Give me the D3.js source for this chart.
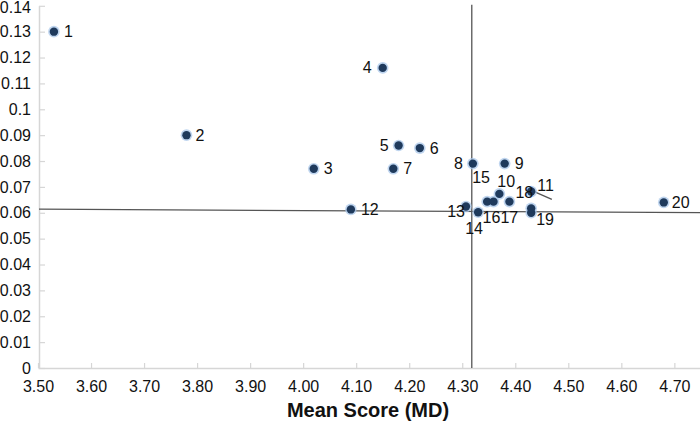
<!DOCTYPE html>
<html>
<head>
<meta charset="utf-8">
<script src="https://cdn.jsdelivr.net/npm/d3@7"></script>
<style>
  html, body { margin: 0; padding: 0; background: #fff; }
  svg { display: block; font-family: "Liberation Sans", Arial, sans-serif; }
</style>
</head>
<body>
<svg id="chart" width="700" height="424"></svg>
<script>
// ---- Data ----
const pointIds   = [1, 2, 3, 4, 5, 6, 7, 8, 9, 10, 11, 12, 13, 14, 15, 16, 17, 18, 19, 20];
const meanScore  = [3.53, 3.78, 4.02, 4.15, 4.18, 4.22, 4.17, 4.32, 4.38, 4.37, 4.43, 4.09, 4.307, 4.33, 4.347, 4.359, 4.389, 4.43, 4.43, 4.68];
const yValues    = [0.130, 0.090, 0.077, 0.116, 0.086, 0.085, 0.077, 0.079, 0.079, 0.0673, 0.0600, 0.0613, 0.0624, 0.0602, 0.0643, 0.0643, 0.0643, 0.0682, 0.0617, 0.064];
const xTickValues = [3.5, 3.6, 3.7, 3.8, 3.9, 4.0, 4.1, 4.2, 4.3, 4.4, 4.5, 4.6, 4.7];
const yTickValues = [0, 0.01, 0.02, 0.03, 0.04, 0.05, 0.06, 0.07, 0.08, 0.09, 0.1, 0.11, 0.12, 0.13, 0.14];
const xAxisTitle = "Mean Score (MD)";
const refX = 4.318;                 // vertical reference line
const refYStart = 0.0614, refYEnd = 0.0600;  // horizontal reference line (slightly tilted)
const leaderEnd = [4.469, 0.0652];  // end of leader line from point 18

// ---- Layout (label placement: [dx, dy, anchor]) ----
const labelLayout = {
  1: [10, 5.5, "start"], 2: [9, 5.5, "start"], 3: [10, 5.5, "start"], 4: [-11, 5.5, "end"],
  5: [-10, 5.5, "end"], 6: [10, 5.5, "start"], 7: [10, 5.5, "start"], 8: [-10, 5.5, "end"],
  9: [10, 5.5, "start"], 10: [-2, -7, "start"], 11: [6, -21.5, "start"], 12: [10, 5.5, "start"],
  13: [-1, 10, "end"], 14: [-13, 22, "start"], 15: [-15, -19, "start"], 16: [-11, 21, "start"],
  17: [-9, 21, "start"], 18: [2, 6, "end"], 19: [5, 17, "start"], 20: [8, 5.5, "start"]
};

const svg = d3.select("#chart");
const x = d3.scaleLinear().domain([3.5, 4.8]).range([38, 38 + 1.3 * 530.3]);
const y = d3.scaleLinear().domain([0, 0.14]).range([368, 5.8]);

const axisColor = "#d6d6d6";

// X axis
const gx = svg.append("g").attr("transform", `translate(0,${y(0)})`)
  .call(d3.axisBottom(x).tickValues(xTickValues).tickSizeInner(-5).tickSizeOuter(0)
        .tickPadding(13).tickFormat(d3.format(".2f")));
gx.select(".domain").attr("stroke", axisColor).attr("stroke-width", 1.5);
gx.selectAll(".tick line").attr("stroke", axisColor).attr("stroke-width", 1.2);
gx.selectAll(".tick text").attr("fill", "#111").attr("font-size", 16)
  .attr("font-family", "'Liberation Sans', Arial, sans-serif");

// Y axis
const gy = svg.append("g").attr("transform", `translate(${x(3.5) + 1},0)`)
  .call(d3.axisLeft(y).tickValues(yTickValues).tickSizeInner(-6).tickSizeOuter(0)
        .tickPadding(8).tickFormat(d => String(+d.toFixed(2))));
gy.select(".domain").attr("stroke", axisColor).attr("stroke-width", 1.5);
gy.selectAll(".tick line").attr("stroke", axisColor).attr("stroke-width", 1.2);
gy.selectAll(".tick text").attr("fill", "#111").attr("font-size", 16)
  .attr("font-family", "'Liberation Sans', Arial, sans-serif")
  .attr("dy", d => d === 0.14 ? "0.42em" : "0.32em");

// Reference lines
svg.append("line")
  .attr("x1", x(3.5) + 1).attr("x2", x(4.8))
  .attr("y1", y(refYStart)).attr("y2", y(refYEnd))
  .attr("stroke", "#555").attr("stroke-width", 1.3);
svg.append("line")
  .attr("x1", x(refX)).attr("x2", x(refX))
  .attr("y1", y(0.14) - 1).attr("y2", y(0))
  .attr("stroke", "#555").attr("stroke-width", 1.3);

const pts = pointIds.map((id, i) => ({ id, mx: meanScore[i], my: yValues[i] }));

// Leader line from point 18
const p18 = pts.find(p => p.id === 18);
svg.append("line")
  .attr("x1", x(p18.mx) + 3).attr("y1", y(p18.my))
  .attr("x2", x(leaderEnd[0])).attr("y2", y(leaderEnd[1]))
  .attr("stroke", "#555").attr("stroke-width", 1.3);

// Points
const gp = svg.append("g");
gp.selectAll("circle.halo").data(pts).join("circle").attr("class", "halo")
  .attr("cx", d => x(d.mx)).attr("cy", d => y(d.my)).attr("r", 5.8)
  .attr("fill", "#a9c7ea").attr("opacity", 0.75);
gp.selectAll("circle.dot").data(pts).join("circle").attr("class", "dot")
  .attr("cx", d => x(d.mx)).attr("cy", d => y(d.my)).attr("r", 4.2)
  .attr("fill", "#1f3a5c");

// Labels
svg.append("g").selectAll("text").data(pts).join("text")
  .attr("x", d => x(d.mx) + labelLayout[d.id][0])
  .attr("y", d => y(d.my) + labelLayout[d.id][1])
  .attr("text-anchor", d => labelLayout[d.id][2])
  .attr("font-size", 16).attr("fill", "#111")
  .text(d => d.id);

// Axis title
svg.append("text")
  .attr("x", 368).attr("y", 417)
  .attr("text-anchor", "middle")
  .attr("font-size", 20).attr("font-weight", "bold").attr("fill", "#111")
  .text(xAxisTitle);
</script>
</body>
</html>
